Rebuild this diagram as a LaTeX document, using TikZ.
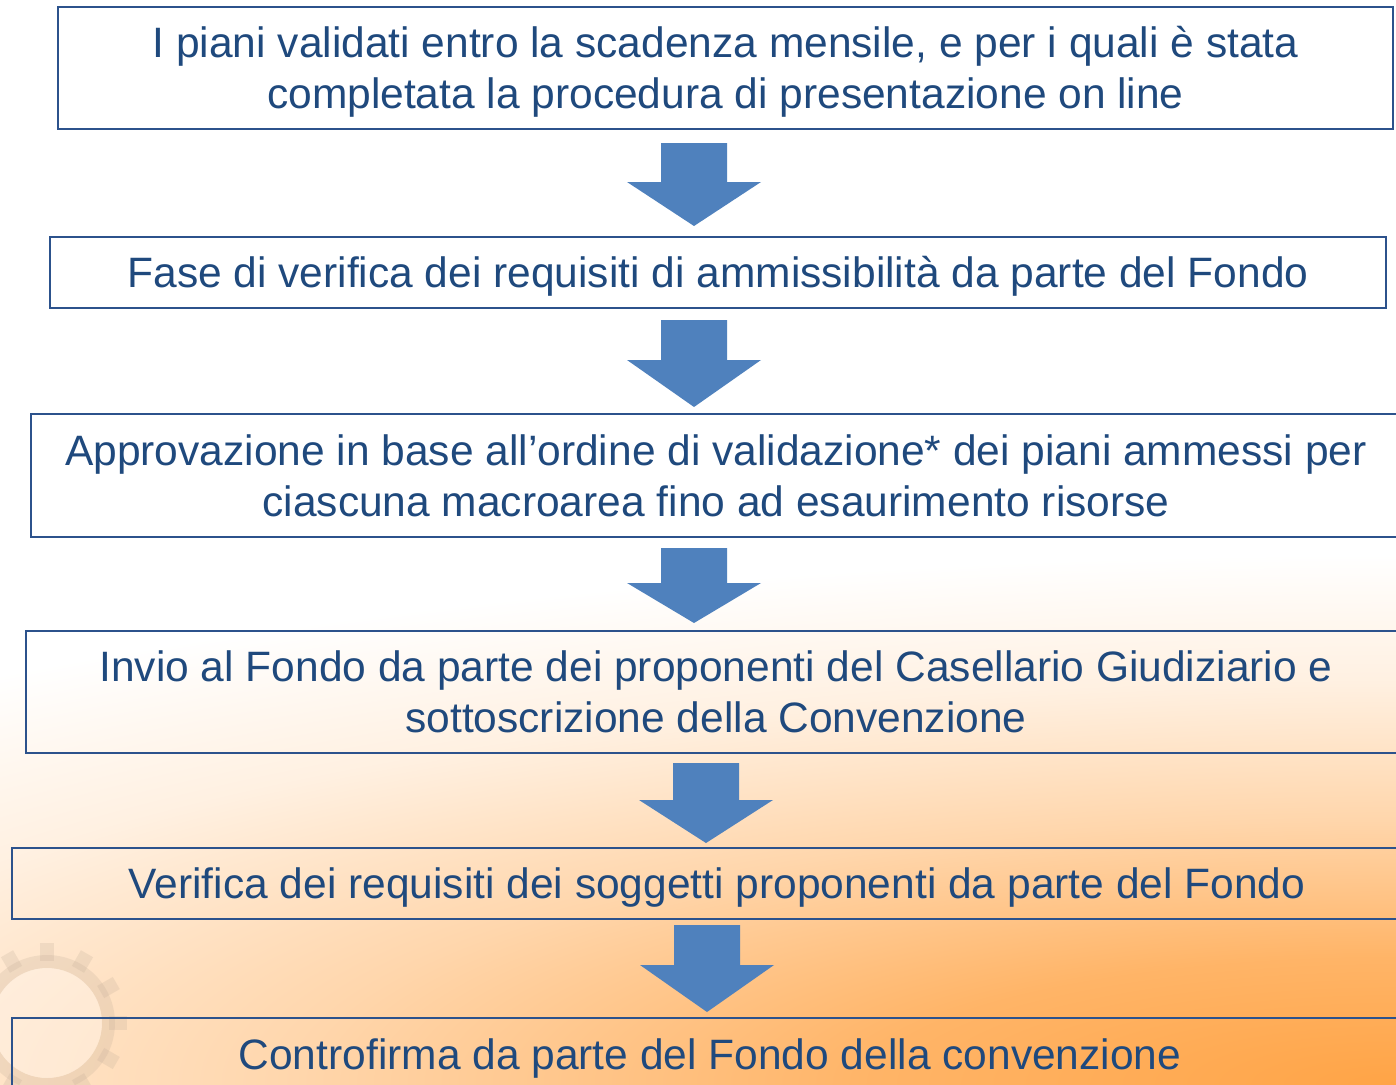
\documentclass[tikz,border=0pt]{standalone}
\usepackage{fontspec}
\setmainfont{Liberation Sans}
\usetikzlibrary{positioning}

\definecolor{boxblue}{RGB}{44,82,140}
\definecolor{textblue}{RGB}{31,73,125}
\definecolor{arrowblue}{RGB}{79,129,189}
\definecolor{bgorange}{RGB}{255,164,70}
\definecolor{gearcol}{RGB}{190,170,150}

\pgfdeclareradialshading{bgglow}{\pgfpoint{0bp}{0bp}}{color(0bp)=(bgorange); color(6bp)=(bgorange!82!white); color(12.5bp)=(bgorange!45!white); color(19bp)=(bgorange!16!white); color(25bp)=(white); color(50bp)=(white)}

\tikzset{
  stepbox/.style={draw=boxblue, line width=1.7pt, text=textblue, align=center,
    font=\fontsize{42.5}{51}\selectfont, inner sep=0pt, text height=30pt, text depth=0pt},
  twolines/.style={text height=81pt},
  bigarrow/.style={fill=arrowblue}
}

\begin{document}
\begin{tikzpicture}[x=1pt, y=-1pt]
\useasboundingbox (0,0) rectangle (1396,1084);
\clip (0,0) rectangle (1396,1084);

% background
\fill[white] (0,0) rectangle (1396,1084);
\shade[shading=bgglow] (1396,1084) ellipse (2200pt and 530pt);

% gear
\begin{scope}[shift={(47,1023)}, gearcol, opacity=0.22]
  \fill[even odd rule] (0,0) circle (68pt) (0,0) circle (55pt);
  \foreach \a in {0,30,...,330}
    \fill[rotate=\a] (-7,62) rectangle (7,80);
\end{scope}
\fill[white, opacity=0.3] (47,1023) circle (55pt);

% -------- steps -----------
\node[stepbox, twolines, minimum width=1335pt, minimum height=122pt] (s1) at (725.5,68)
  {I piani validati entro la scadenza mensile, e per i quali è stata\\completata la procedura di presentazione on line};
\node[stepbox, minimum width=1336pt, minimum height=71pt] (s2) at (718,272.5)
  {Fase di verifica dei requisiti di ammissibilità da parte del Fondo};
\node[stepbox, twolines, minimum width=1370pt, minimum height=123pt] (s3) at (716,475.5)
  {Approvazione in base all’ordine di validazione* dei piani ammessi per\\ciascuna macroarea fino ad esaurimento risorse};
\node[stepbox, twolines, minimum width=1380pt, minimum height=122pt] (s4) at (716,692)
  {Invio al Fondo da parte dei proponenti del Casellario Giudiziario e\\sottoscrizione della Convenzione};
\node[stepbox, minimum width=1410pt, minimum height=71pt] (s5) at (717,883.5)
  {Verifica dei requisiti dei soggetti proponenti da parte del Fondo};
\node[stepbox, minimum width=1396pt, minimum height=72pt] (s6) at (710,1054)
  {Controfirma da parte del Fondo della convenzione};

% -------- arrows -----------
\foreach \ax/\ya/\yb/\yc in {694/143/182/226, 694/320/360/407, 694/548/583/623,
                             706/763/800/843, 707/925/965/1012}
  \fill[bigarrow] (\ax-33,\ya) -- (\ax+33,\ya) -- (\ax+33,\yb) -- (\ax+67,\yb)
    -- (\ax,\yc) -- (\ax-67,\yb) -- (\ax-33,\yb) -- cycle;

\end{tikzpicture}
\end{document}
